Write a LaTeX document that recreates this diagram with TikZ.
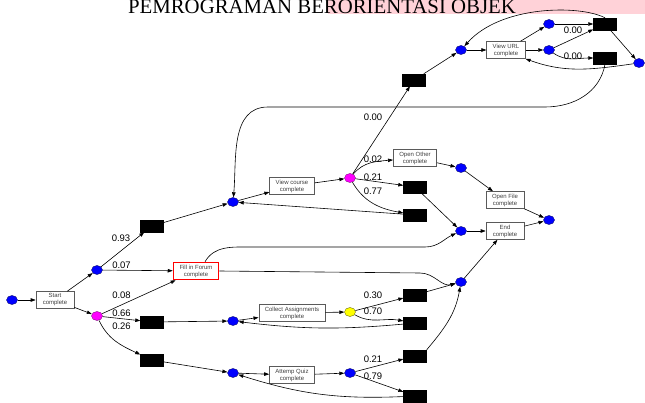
\documentclass[tikz,border=0pt]{standalone}
\usepackage{fontspec}
\setmainfont{Liberation Sans}
\newfontfamily\titlefont{Liberation Serif}
\usetikzlibrary{arrows.meta, shapes}

\definecolor{hilite}{RGB}{255,210,216}
\definecolor{boxline}{RGB}{90,90,90}
\definecolor{decmag}{RGB}{255,0,255}
\definecolor{decyel}{RGB}{255,255,0}
\definecolor{placeblue}{RGB}{0,0,255}

\begin{document}
\begin{tikzpicture}[
    x=1pt, y=1pt,
    place/.style={ellipse, draw=placeblue!40!black, fill=placeblue, line width=0.4pt,
                  minimum width=11pt, minimum height=9pt, inner sep=0pt},
    choice/.style={place, fill=decmag, draw=decmag!50!black},
    task/.style={rectangle, draw=boxline, fill=white, line width=0.6pt,
                 minimum width=38pt, minimum height=17pt, inner xsep=6pt, inner ysep=1pt,
                 align=center, text=black!75, font=\fontsize{6}{7}\selectfont},
    silent/.style={rectangle, draw=black, fill=black,
                   minimum width=23pt, minimum height=12pt, inner sep=0pt},
    prob/.style={font=\fontsize{9.5}{10}\selectfont, inner sep=0pt},
    arrow/.style={-{Triangle[length=5pt, width=3.5pt]}, line width=0.6pt}
  ]
    \clip (0,0) rectangle (645,-403);

    % Heading cut off at the top
    \fill[hilite] (328,0) rectangle (645,-14.5);
    \node[font=\titlefont\fontsize{20.8}{22}\selectfont, anchor=base, inner sep=0pt] (title) at (322,-13.5) {PEMROGRAMAN BERORIENTASI OBJEK};

    % Start
    \node[place] (p-source) at (12,-300) {};
    \node[task] (t-start) at (55,-300) {Start\\complete};
    \node[place] (p-s1) at (97,-270) {};
    \node[choice] (p-s2) at (97,-316) {};

    % Silent transitions after the start
    \node[silent] (s-vc) at (152,-226) {};
    \node[silent] (s-ca) at (152,-322) {};
    \node[silent] (s-aq) at (152,-360) {};
    \node[task, draw=red, line width=1.5pt] (t-forum) at (196,-271) {Fill in Forum\\complete};

    % View course branch
    \node[place] (p-vc) at (233,-202) {};
    \node[task] (t-vc) at (292,-186) {View course\\complete};
    \node[choice] (p-vcx) at (350,-178) {};
    \node[silent] (s-url) at (414,-80) {};
    \node[task] (t-oo) at (415,-158) {Open Other\\complete};
    \node[silent] (s-vc21) at (415,-187) {};
    \node[silent] (s-vc77) at (415,-215) {};

    % View URL part
    \node[place] (p-url) at (461,-50) {};
    \node[task] (t-url) at (506,-50) {View URL\\complete};
    \node[place] (p-u1) at (549,-24) {};
    \node[place] (p-u2) at (549,-50) {};
    \node[silent] (s-u1) at (605,-24) {};
    \node[silent] (s-u2) at (605,-58) {};
    \node[place] (p-u3) at (639,-63) {};

    % Open file and end
    \node[place] (p-oo) at (461,-168) {};
    \node[task] (t-of) at (505,-200) {Open File\\complete};
    \node[place] (p-end) at (461,-231) {};
    \node[task] (t-end) at (505,-231) {End\\complete};
    \node[place] (p-sink) at (549,-220) {};

    % Collect assignments branch
    \node[place] (p-ca) at (233,-321) {};
    \node[task] (t-ca) at (292,-313) {Collect Assignments\\complete};
    \node[place, fill=decyel, draw=decyel!40!black] (p-cax) at (350,-312) {};
    \node[silent] (s-ca30) at (415,-295) {};
    \node[silent] (s-ca70) at (415,-323) {};
    \node[place] (p-join) at (461,-282) {};

    % Attemp quiz branch
    \node[place] (p-aq) at (233,-373) {};
    \node[task] (t-aq) at (292,-375) {Attemp Quiz\\complete};
    \node[place] (p-aqx) at (350,-373) {};
    \node[silent] (s-aq21) at (415,-356) {};
    \node[silent] (s-aq79) at (415,-396) {};

    % Arcs at the start
    \draw[arrow] (p-source) -- (t-start);
    \draw[arrow] (t-start) -- (p-s1);
    \draw[arrow] (t-start) -- (p-s2);
    \draw[arrow] (p-s1) -- (s-vc);
    \draw[arrow] (p-s1) -- (t-forum);
    \draw[arrow] (p-s2) -- (t-forum);
    \draw[arrow] (p-s2) -- (s-ca);
    \draw[arrow] (p-s2) to[out=-65, in=155] (s-aq);
    \draw[arrow] (s-vc) -- (p-vc);
    \draw[arrow] (s-ca) -- (p-ca);
    \draw[arrow] (s-aq) -- (p-aq);

    % Arcs of view course
    \draw[arrow] (p-vc) -- (t-vc);
    \draw[arrow] (t-vc) -- (p-vcx);
    \draw[arrow] (p-vcx) -- (s-url);
    \draw[arrow] (p-vcx) to[out=50, in=185] (t-oo);
    \draw[arrow] (p-vcx) -- (s-vc21);
    \draw[arrow] (p-vcx) to[out=-60, in=170] (s-vc77);
    \draw[arrow] (s-vc77) -- (p-vc);

    % Arcs of view URL
    \draw[arrow] (s-url) -- (p-url);
    \draw[arrow] (p-url) -- (t-url);
    \draw[arrow] (t-url) -- (p-u1);
    \draw[arrow] (t-url) -- (p-u2);
    \draw[arrow] (p-u1) -- (s-u1);
    \draw[arrow] (p-u2) -- (s-u1);
    \draw[arrow] (p-u2) to[out=-35, in=180] (s-u2);
    \draw[arrow] (s-u1) -- (p-u3);
    \draw[arrow] (p-u3) to[out=188, in=-20] (t-url.south east);
    \draw[arrow] (s-u1.north) .. controls +(-25,13) and +(40,45) .. (p-url);
    \draw[arrow] (s-u2.south) to[out=-100, in=0] (545,-107) -- (268,-107) to[out=180, in=85] (p-vc);

    % Arcs to the end
    \draw[arrow] (t-oo) -- (p-oo);
    \draw[arrow] (p-oo) -- (t-of);
    \draw[arrow] (t-of) -- (p-sink);
    \draw[arrow] (s-vc21) -- (p-end);
    \draw[arrow] ([xshift=9pt]t-forum.north) to[out=60, in=180] (250,-247) -- (425,-247) to[out=0, in=205] (p-end);
    \draw[arrow] (p-end) -- (t-end);
    \draw[arrow] (t-end) -- (p-sink);
    \draw[arrow] (t-forum.east) -- (420,-273) to[out=0, in=195] (p-join);
    \draw[arrow] (p-join) -- (t-end);

    % Arcs of collect assignments
    \draw[arrow] (p-ca) -- (t-ca);
    \draw[arrow] (t-ca) -- (p-cax);
    \draw[arrow] (p-cax) -- (s-ca30);
    \draw[arrow] (p-cax) to[out=-30, in=170] (s-ca70);
    \draw[arrow] (s-ca70) to[bend left=6] (p-ca);
    \draw[arrow] (s-ca30) -- (p-join);

    % Arcs of attemp quiz
    \draw[arrow] (p-aq) -- (t-aq);
    \draw[arrow] (t-aq) -- (p-aqx);
    \draw[arrow] (p-aqx) -- (s-aq21);
    \draw[arrow] (p-aqx) -- (s-aq79);
    \draw[arrow] (s-aq79) to[bend left=10] (p-aq);
    \draw[arrow] (s-aq21.north east) to[out=50, in=-100] (p-join);

    % Probabilities
    \node[prob] (l-s93) at (121,-238) {0.93};
    \node[prob] (l-s07) at (121.5,-265) {0.07};
    \node[prob] (l-s08) at (121.5,-295) {0.08};
    \node[prob] (l-s66) at (121.5,-313) {0.66};
    \node[prob] (l-s26) at (121.5,-326) {0.26};
    \node[prob] (l-v00) at (373,-117) {0.00};
    \node[prob] (l-v02) at (373,-159) {0.02};
    \node[prob] (l-v21) at (373,-177) {0.21};
    \node[prob] (l-v77) at (373,-191) {0.77};
    \node[prob] (l-u00a) at (573,-30) {0.00};
    \node[prob] (l-u00b) at (573,-56) {0.00};
    \node[prob] (l-c30) at (373,-295) {0.30};
    \node[prob] (l-c70) at (373,-311) {0.70};
    \node[prob] (l-q21) at (373,-359) {0.21};
    \node[prob] (l-q79) at (373,-376) {0.79};

  \end{tikzpicture}
\end{document}
